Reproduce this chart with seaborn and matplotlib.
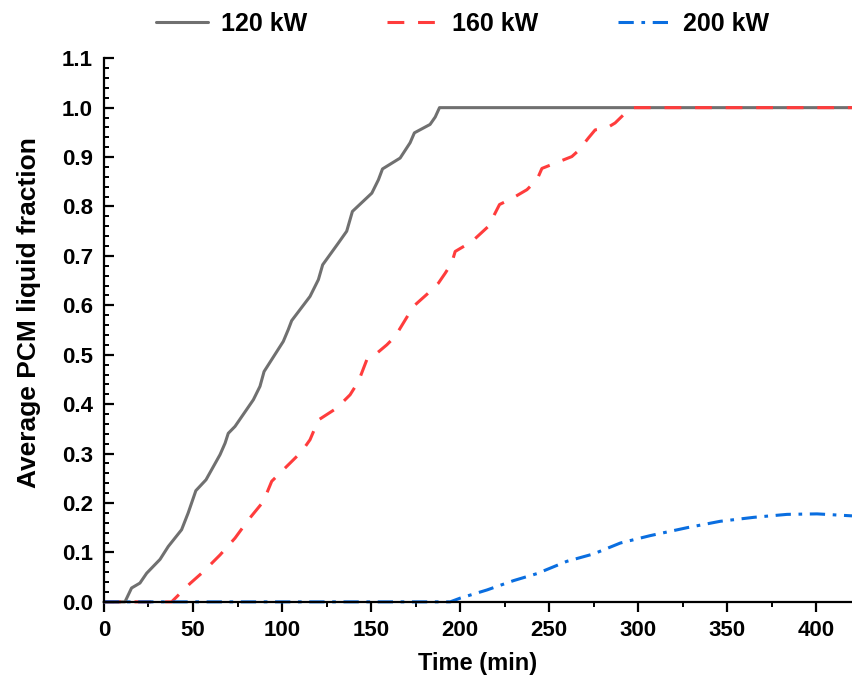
import matplotlib
matplotlib.use("Agg")
import matplotlib.pyplot as plt
from matplotlib.ticker import MultipleLocator
import seaborn as sns
import pandas as pd

# 120 kW
t_120 = [0, 11.8, 15.5, 20.2, 24, 31.5, 36.1, 43.6, 47.3, 51.6, 57.3, 65.2, 68, 69.8, 73.6,
         83.9, 87.6, 89.9, 100.7, 103.5, 105.4, 115.7, 120.4, 122.8, 131.6, 136.3, 139.5,
         150.4, 154.1, 156.4, 166.3, 171.9, 174.3, 183.1, 186, 188.4, 420]
f_120 = [0, 0, 0.028, 0.038, 0.058, 0.086, 0.112, 0.146, 0.18, 0.225, 0.247, 0.298, 0.321, 0.341, 0.355,
         0.409, 0.436, 0.466, 0.527, 0.551, 0.569, 0.618, 0.652, 0.682, 0.726, 0.75, 0.79,
         0.827, 0.854, 0.876, 0.898, 0.929, 0.949, 0.966, 0.981, 1.0, 1.0]

# 160 kW
t_160 = [0, 38, 48.3, 55.8, 65.2, 73.6, 81.1, 89.5, 94.2, 102.6, 111, 115.7, 120.4, 130.7, 138.2,
         142.9, 147.6, 153.2, 158.8, 163.5, 173.8, 183.1, 187.8, 191.6, 195.3, 197.2, 206.6,
         215.9, 219.7, 222.1, 229, 237.5, 243.1, 245.9, 251.5, 257.1, 262.7, 266.4, 272.1,
         275.8, 282.4, 287, 292.7, 297, 420]
f_160 = [0, 0, 0.037, 0.061, 0.095, 0.129, 0.166, 0.203, 0.244, 0.274, 0.304, 0.328, 0.368, 0.392, 0.419,
         0.446, 0.49, 0.503, 0.52, 0.537, 0.598, 0.628, 0.645, 0.665, 0.686, 0.709, 0.729,
         0.76, 0.787, 0.804, 0.816, 0.834, 0.854, 0.877, 0.885, 0.893, 0.901, 0.913, 0.939,
         0.955, 0.959, 0.969, 0.989, 1.0, 1.0]

# 200 kW
t_200 = [0, 194.4, 200, 215, 230, 243, 259.9, 274.9, 289.9, 306.7, 327.3, 346, 364.8, 383.5, 400.4, 420]
f_200 = [0, 0, 0.0075, 0.024, 0.043, 0.057, 0.082, 0.097, 0.119, 0.134, 0.15, 0.163, 0.171, 0.177, 0.178, 0.174]

labels = ["120 kW", "160 kW", "200 kW"]
colors = ["#707070", "#ff3c3c", "#0a6ee0"]

sns.set_style("ticks")
plt.rcParams['font.family'] = ['Liberation Sans', 'DejaVu Sans']
plt.rcParams['font.weight'] = 'bold'
plt.rcParams['text.color'] = 'black'
plt.rcParams['axes.labelcolor'] = 'black'
plt.rcParams['xtick.color'] = 'black'
plt.rcParams['ytick.color'] = 'black'

fig = plt.figure(figsize=(8.52, 6.77), dpi=100)
ax = fig.add_axes([0.122, 0.111, 0.878, 0.803])

sns.lineplot(x=t_120, y=f_120, ax=ax, color=colors[0], lw=2.2, label=labels[0], clip_on=False)
sns.lineplot(x=t_160, y=f_160, ax=ax, color=colors[1], lw=2.2, linestyle=(0, (5.5, 4.5)),
             label=labels[1], clip_on=False)
sns.lineplot(x=t_200, y=f_200, ax=ax, color=colors[2], lw=2.2, linestyle=(0, (5, 2.5, 1.2, 2.5)),
             label=labels[2], clip_on=False)

ax.set_xlim(0, 420)
ax.set_ylim(0, 1.1)
ax.xaxis.set_major_locator(MultipleLocator(50))
ax.xaxis.set_minor_locator(MultipleLocator(25))
ax.yaxis.set_major_locator(MultipleLocator(0.1))
ax.yaxis.set_minor_locator(MultipleLocator(0.02))
ax.yaxis.set_major_formatter(plt.FormatStrFormatter('%.1f'))

sns.despine(ax=ax)
for s in ["left", "bottom"]:
    ax.spines[s].set_linewidth(1.6)
    ax.spines[s].set_color("black")
ax.tick_params(axis='y', which='major', direction='in', length=7, width=1.6, labelsize=16, pad=8)
ax.tick_params(axis='y', which='minor', direction='in', length=3.5, width=1.4)
ax.tick_params(axis='x', which='major', direction='out', length=7, width=1.6, labelsize=16, pad=6)
ax.tick_params(axis='x', which='minor', direction='out', length=3.5, width=1.4)
for lab in ax.get_xticklabels() + ax.get_yticklabels():
    lab.set_fontweight('bold')

ax.set_xlabel("Time (min)", fontsize=17, fontweight='bold', labelpad=8)
ax.set_ylabel("Average PCM liquid fraction", fontsize=19, fontweight='bold')
ax.yaxis.set_label_coords(-0.084, 0.533)

ax.get_legend().remove()
handles, labs = ax.get_legend_handles_labels()
fig.legend(handles, labs, loc='center', bbox_to_anchor=(0.543, 0.965), ncol=3, frameon=False,
           prop={'size': 18, 'weight': 'bold'}, handlelength=2.1, handletextpad=0.5,
           columnspacing=3.2)

fig.savefig("out.png", dpi=100)
